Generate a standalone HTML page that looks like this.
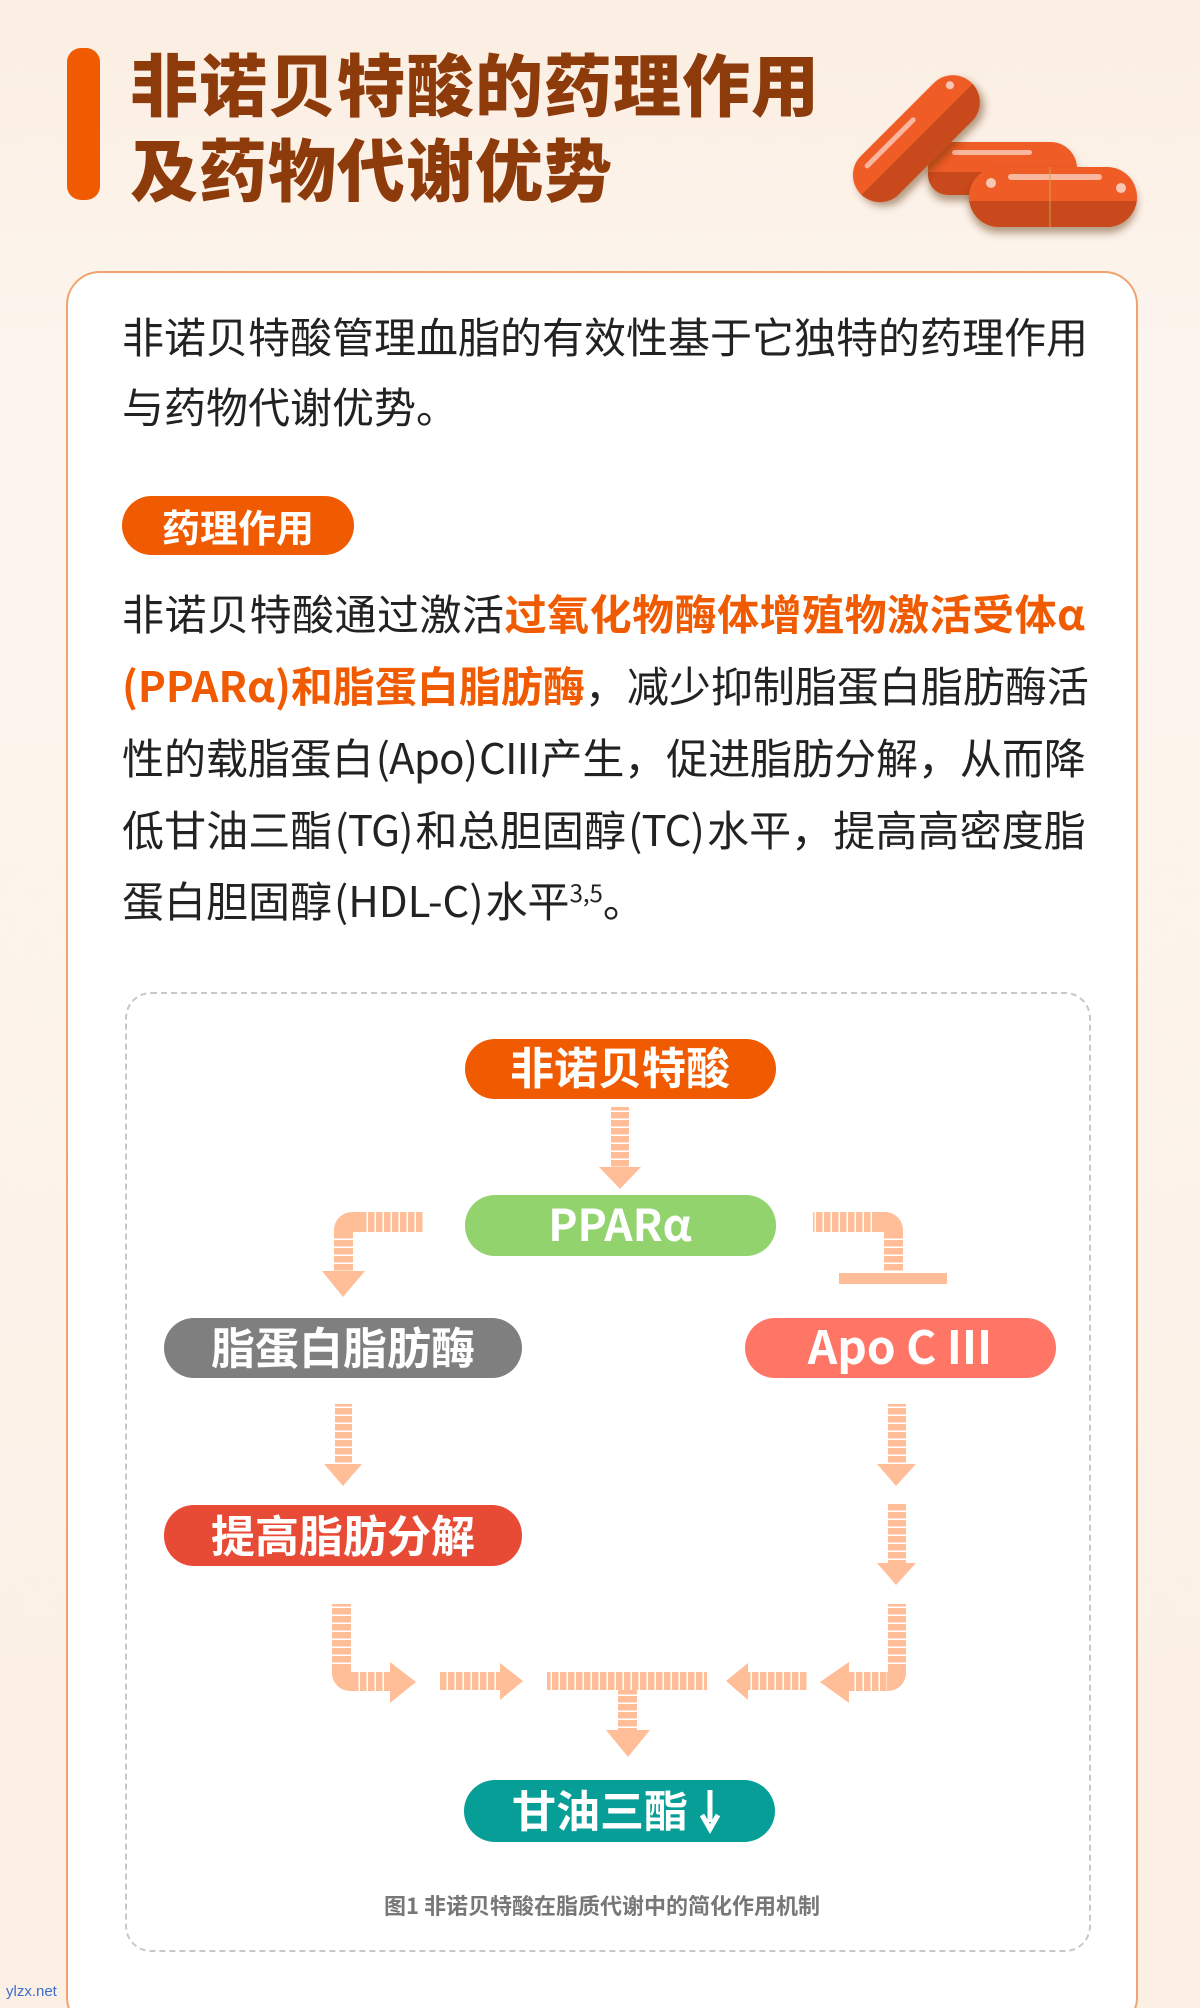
<!DOCTYPE html>
<html style="height:2008px;overflow:hidden"><head><meta charset="utf-8"><style>
*{margin:0;padding:0;box-sizing:border-box}
body{width:1200px;height:2008px;position:relative;overflow:hidden;background:linear-gradient(180deg,#fbeee2 0%,#fdf6ef 20%,#fcefe4 100%);font-family:"Noto Sans CJK SC","Liberation Sans",sans-serif}
.bar{position:absolute;left:67px;top:48px;width:33px;height:152px;border-radius:14px;background:#f05a00}
.title{position:absolute;left:130px;font-size:68px;font-weight:900;color:#8e3b0c;letter-spacing:1px;line-height:1}
.card{position:absolute;left:66px;top:271px;width:1072px;height:1760px;background:#fff;border:2px solid #f0a36e;border-radius:34px}
.ln{position:absolute;left:122px;width:963px;font-size:42px;color:#222;line-height:1;text-align:justify;text-align-last:justify;white-space:nowrap}
.t{letter-spacing:-0.8px}
.hl{color:#f05a00;font-weight:700}
.p{margin:0 2px}
.tag{position:absolute;left:122px;top:496px;width:232px;height:59px;border-radius:30px;background:#f05a00;color:#fff;font-size:38px;font-weight:700;text-align:center;line-height:59px}
.box{position:absolute;left:125px;top:992px;width:966px;height:960px;border:2px dashed #c8c8c8;border-radius:26px}
svg{position:absolute;left:0;top:0}
.wm{position:absolute;left:6px;top:1983px;font-size:15px;color:#3a6fd0;font-family:"Liberation Sans",sans-serif}
</style></head><body>
<div class="bar"></div>
<div class="title" style="top:48px">非诺贝特酸的药理作用</div>
<div class="title" style="top:133px">及药物代谢优势</div>

<svg width="1200" height="300" viewBox="0 0 1200 300">
 <defs>
  <filter id="sh" x="-20%" y="-20%" width="140%" height="160%"><feDropShadow dx="0" dy="6" stdDeviation="4" flood-color="#5a2a10" flood-opacity="0.45"/></filter>
 </defs>
 <g filter="url(#sh)">
  <rect x="928" y="142" width="149" height="53" rx="26.5" fill="#ef5b27"/>
  <path d="M928 172 H1077 V175 a20 20 0 0 1 -20 20 H948 a20 20 0 0 1 -20 -20z" fill="#c84a1f"/>
  <rect x="952" y="150" width="80" height="5" rx="2.5" fill="#f9b79e"/>
 </g>
 <g filter="url(#sh)" transform="rotate(-45 916 139)">
  <rect x="838" y="112" width="157" height="54" rx="27" fill="#ef5b27"/>
  <path d="M838 140 H995 V139 a27 27 0 0 1 -27 27 H865 a27 27 0 0 1 -27 -27z" fill="#c84a1f"/>
  <rect x="860" y="121" width="70" height="5" rx="2.5" fill="#f9b79e"/>
  <circle cx="978" cy="125" r="4" fill="#f9c8b5"/>
 </g>
 <g filter="url(#sh)">
  <rect x="969" y="167" width="168" height="60" rx="30" fill="#ef5b27"/>
  <path d="M969 201 H1137 V197 a30 30 0 0 1 -30 30 H999 a30 30 0 0 1 -30 -30z" fill="#c84a1f"/>
  <rect x="1008" y="174" width="94" height="6" rx="3" fill="#f9b79e"/>
  <circle cx="991" cy="183" r="5" fill="#f9c8b5"/>
  <circle cx="1121" cy="188" r="5" fill="#f9c8b5"/>
  <line x1="1050" y1="167" x2="1050" y2="227" stroke="#d2a040" stroke-width="1"/>
 </g>
</svg>

<div class="card"></div>
<div class="ln" style="top:315px">非诺贝特酸管理血脂的有效性基于它独特的药理作用</div>
<div class="ln" style="top:385px;text-align-last:left">与药物代谢优势。</div>
<div class="tag">药理作用</div>
<div class="ln" style="top:592px">非诺贝特酸通过激活<span class="hl">过氧化物酶体增殖物激活受体α</span></div>
<div class="ln" style="top:664px"><span class="hl">(PPARα)和脂蛋白脂肪酶</span>，减少抑制脂蛋白脂肪酶活</div>
<div class="ln t" style="top:736px">性的载脂蛋白<span class="p">(Apo)</span>CIII产生，促进脂肪分解，从而降</div>
<div class="ln t" style="top:808px">低甘油三酯<span class="p">(TG)</span>和总胆固醇<span class="p">(TC)</span>水平，提高高密度脂</div>
<div class="ln" style="top:879px;text-align-last:left">蛋白胆固醇<span class="p">(HDL-C)</span>水平<sup style="font-size:24px">3,5</sup>。</div>

<div class="box"></div>
<svg width="1200" height="2008" viewBox="0 0 1200 2008" style="font-family:'Noto Sans CJK SC','Liberation Sans',sans-serif;font-weight:700">
 <defs>
  <pattern id="hs" width="8" height="8" patternUnits="userSpaceOnUse"><rect y="6.5" width="8" height="1.5" fill="#fff"/></pattern>
  <pattern id="vs" width="8" height="8" patternUnits="userSpaceOnUse"><rect x="6.5" width="1.5" height="8" fill="#fff"/></pattern>
 </defs>
 <g fill="#ffbe98">
  <rect x="611" y="1107" width="18" height="61"/><rect x="611" y="1107" width="18" height="61" fill="url(#hs)"/>
  <polygon points="599,1167 641,1167 620,1189"/>
  <path d="M423 1212 V1232 H353 V1271 H334 V1230 a18 18 0 0 1 18 -18z"/>
  <rect x="360" y="1212" width="63" height="20" fill="url(#vs)"/><rect x="334" y="1234" width="19" height="37" fill="url(#hs)"/>
  <polygon points="322,1271 365,1271 343,1297"/>
  <path d="M813 1212 V1232 H884 V1271 H903 V1230 a18 18 0 0 0 -18 -18z"/>
  <rect x="813" y="1212" width="65" height="20" fill="url(#vs)"/><rect x="884" y="1234" width="19" height="37" fill="url(#hs)"/>
  <rect x="839" y="1273" width="108" height="11"/>
  <rect x="335" y="1404" width="17" height="61"/><rect x="335" y="1404" width="17" height="61" fill="url(#hs)"/>
  <polygon points="324,1464 362,1464 343,1486"/>
  <rect x="888" y="1404" width="18" height="61"/><rect x="888" y="1404" width="18" height="61" fill="url(#hs)"/>
  <polygon points="877,1464 916,1464 896,1486"/>
  <rect x="888" y="1503" width="18" height="61"/><rect x="888" y="1503" width="18" height="61" fill="url(#hs)"/>
  <polygon points="877,1563 916,1563 896,1585"/>
  <path d="M332 1604 H351 V1672 H390 V1691 H350 a18 18 0 0 1 -18 -18z"/>
  <rect x="332" y="1604" width="19" height="66" fill="url(#hs)"/><rect x="352" y="1672" width="38" height="19" fill="url(#vs)"/>
  <polygon points="390,1662 390,1703 416,1682"/>
  <rect x="440" y="1672" width="60" height="18"/><rect x="440" y="1672" width="60" height="18" fill="url(#vs)"/>
  <polygon points="500,1663 500,1700 523,1681"/>
  <rect x="547" y="1672" width="160" height="18"/><rect x="547" y="1672" width="160" height="18" fill="url(#vs)"/>
  <rect x="618" y="1690" width="19" height="40"/><rect x="618" y="1690" width="19" height="40" fill="url(#hs)"/>
  <polygon points="606,1730 650,1730 628,1757"/>
  <rect x="748" y="1672" width="60" height="18"/><rect x="748" y="1672" width="60" height="18" fill="url(#vs)"/>
  <polygon points="748,1663 748,1700 726,1681"/>
  <path d="M906 1604 H888 V1672 H849 V1691 H888 a18 18 0 0 0 18 -18z"/>
  <rect x="888" y="1604" width="18" height="66" fill="url(#hs)"/><rect x="849" y="1672" width="38" height="19" fill="url(#vs)"/>
  <polygon points="849,1662 849,1703 820,1682"/>
 </g>
 <rect x="465" y="1039" width="311" height="60" rx="30" fill="#f05a00"/>
 <text x="620" y="1084" text-anchor="middle" font-size="44" fill="#fff">非诺贝特酸</text>
 <rect x="465" y="1195" width="311" height="61" rx="30" fill="#92d36e"/>
 <text x="620" y="1241" text-anchor="middle" font-size="44" fill="#fff">PPARα</text>
 <rect x="164" y="1318" width="358" height="60" rx="30" fill="#7f7f7f"/>
 <text x="343" y="1364" text-anchor="middle" font-size="44" fill="#fff">脂蛋白脂肪酶</text>
 <rect x="745" y="1318" width="311" height="60" rx="30" fill="#ff7566"/>
 <text x="900" y="1364" text-anchor="middle" font-size="46" fill="#fff">Apo C III</text>
 <rect x="164" y="1505" width="358" height="61" rx="30" fill="#e84b35"/>
 <text x="343" y="1552" text-anchor="middle" font-size="44" fill="#fff">提高脂肪分解</text>
 <rect x="464" y="1780" width="311" height="62" rx="31" fill="#079e98"/>
 <text x="600" y="1827" text-anchor="middle" font-size="44" fill="#fff">甘油三酯</text>
 <path d="M710 1790 V1822 M702 1815 L710 1829 L718 1815" stroke="#fff" stroke-width="5" fill="none"/>
 <text x="602" y="1914" text-anchor="middle" font-size="22" fill="#777">图1 非诺贝特酸在脂质代谢中的简化作用机制</text>
</svg>
<div class="wm">ylzx.net</div>
</body></html>
